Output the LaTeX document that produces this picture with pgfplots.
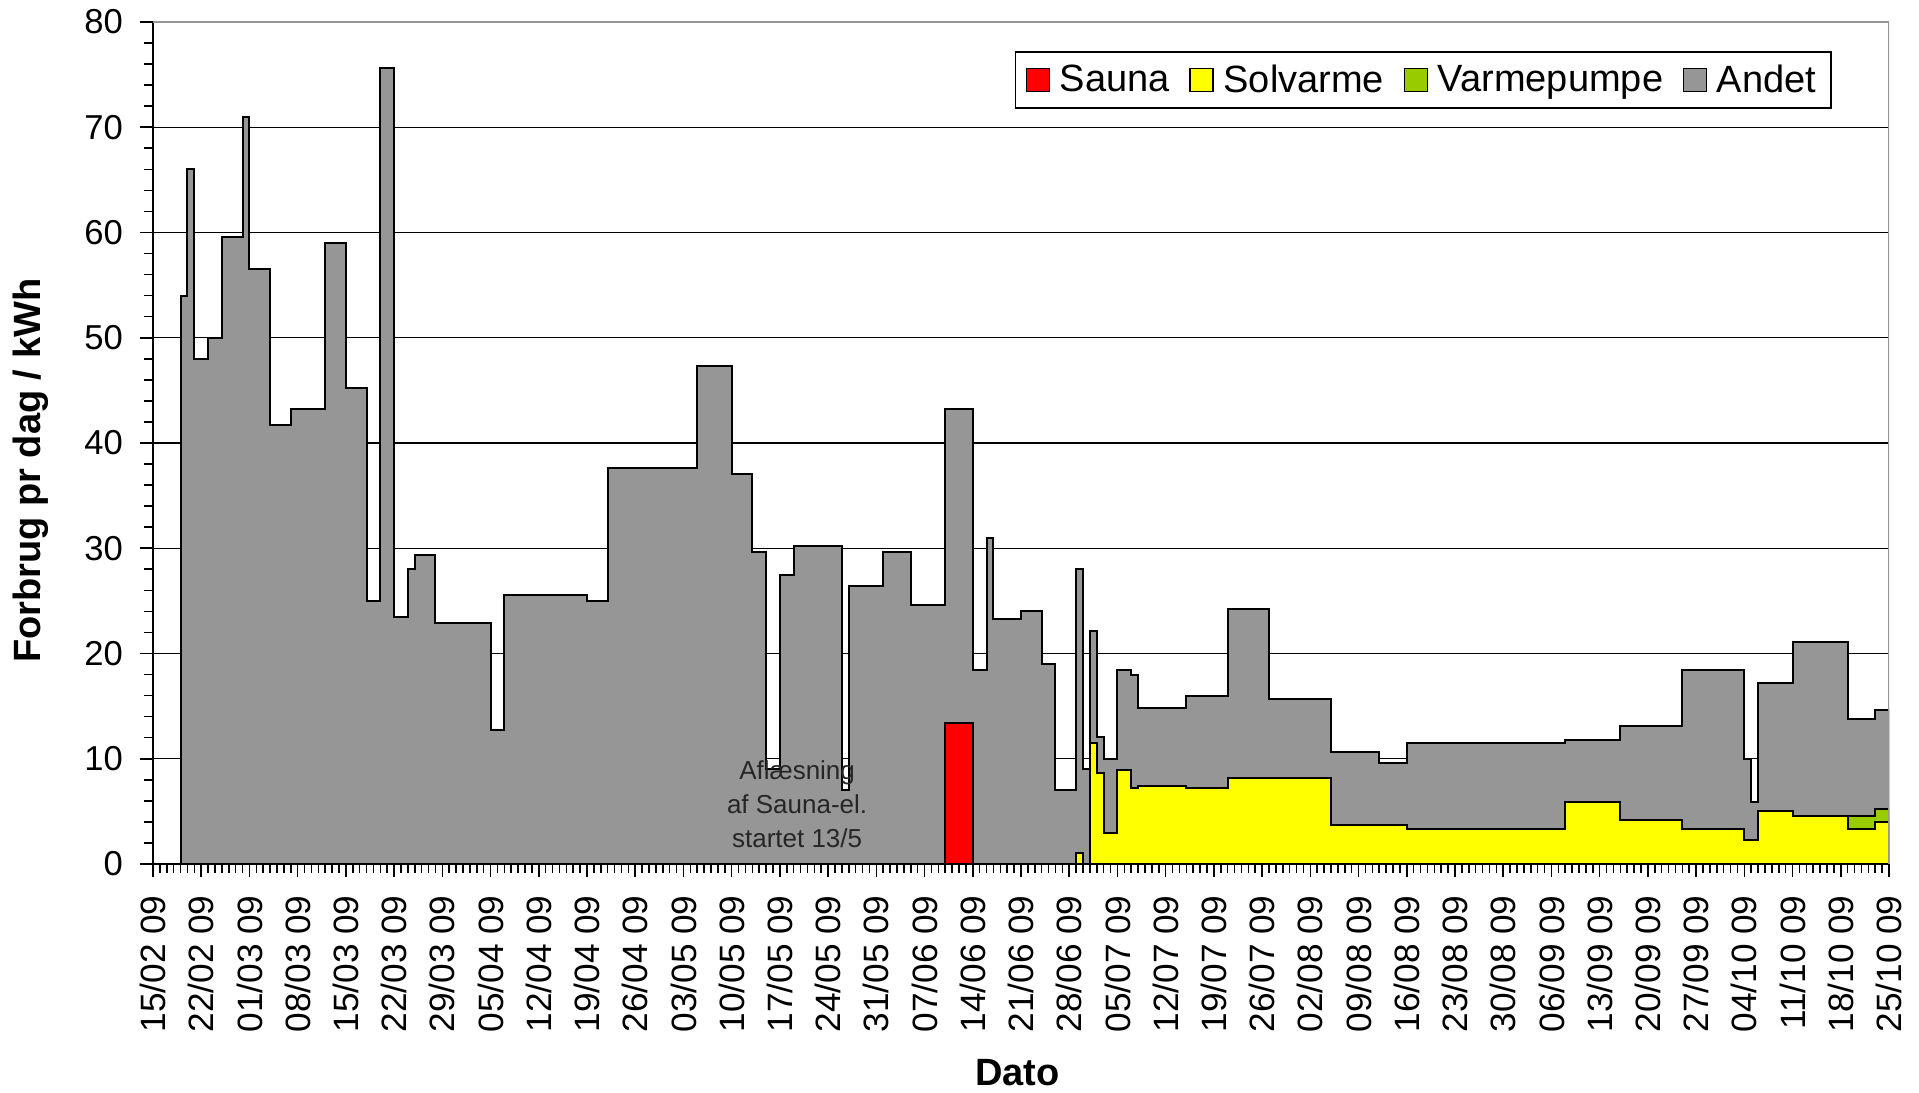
\documentclass[border=0pt]{standalone}
\usepackage{fontspec}
\setmainfont{Liberation Sans}
\usepackage{pgfplots}
\pgfplotsset{compat=1.18}
\usetikzlibrary{calc}
\definecolor{sauna}{RGB}{255,0,0}
\definecolor{solv}{RGB}{255,255,0}
\definecolor{varm}{RGB}{153,204,0}
\definecolor{andet}{RGB}{150,150,150}
\definecolor{frame}{RGB}{150,150,150}

\begin{document}
\begin{tikzpicture}
\begin{axis}[
  scale only axis, width=868pt, height=421pt,
  xmin=0, xmax=252, ymin=0, ymax=80,
  axis x line*=bottom, axis y line*=left,
  axis line style={black, line width=0.8pt},
  xtick={0,7,...,252},
  xticklabels={15/02 09,22/02 09,01/03 09,08/03 09,15/03 09,22/03 09,29/03 09,05/04 09,12/04 09,19/04 09,26/04 09,03/05 09,10/05 09,17/05 09,24/05 09,31/05 09,07/06 09,14/06 09,21/06 09,28/06 09,05/07 09,12/07 09,19/07 09,26/07 09,02/08 09,09/08 09,16/08 09,23/08 09,30/08 09,06/09 09,13/09 09,20/09 09,27/09 09,04/10 09,11/10 09,18/10 09,25/10 09},
  minor x tick num=6,
  ytick={0,10,...,80}, minor y tick num=4,
  tick align=outside,
  major tick length=6.5pt, minor tick length=4.5pt,
  tick style={black, line width=0.8pt},
  ymajorgrids, major grid style={black, line width=0.7pt},
  xticklabel style={rotate=90, anchor=east, font=\fontsize{17.6}{20}\selectfont, inner sep=0pt},
  xticklabel shift=9pt,
  yticklabel style={font=\fontsize{17.3}{20}\selectfont},
  yticklabel shift=5pt,
  /pgf/number format/assume math mode=true,
  every axis y label/.style={at={(axis description cs:-0.0703,0.467)}, rotate=90, anchor=center, font=\bfseries\fontsize{19}{22}\selectfont},
  every axis x label/.style={at={(axis description cs:0.498,-0.248)}, anchor=center, font=\bfseries\fontsize{19}{22}\selectfont},
  ylabel={Forbrug pr dag / kWh},
  xlabel={Dato},
  const plot,
  legend style={at={(rel axis cs:0.9672,0.9656)}, anchor=north east, draw=black, line width=0.8pt,
    font=\fontsize{19}{22}\selectfont, fill=white, inner xsep=5pt, inner ysep=5pt,
    nodes={inner xsep=2.5pt, inner ysep=1.5pt},
    /tikz/every odd column/.append style={column sep=2.4pt},
    /tikz/every even column/.append style={column sep=7.3pt}},
  legend columns=4,
  legend cell align=left,
]
% total (top of Andet)
\addplot[fill=andet, draw=black, line width=1pt, forget plot] coordinates {
(4,54) (5,66) (6,48) (8,50) (10,59.6) (13,71) (14,56.5) (17,41.7) (20,43.2) (25,59) (28,45.2) (31,25) (33,75.6) (35,23.5) (37,28) (38,29.4) (41,22.9) (49,12.7) (51,25.6) (63,25.0) (66,37.6) (79,47.3) (84,37.1) (87,29.6) (89,9) (91,27.5) (93,30.2) (100,7.0) (101,26.4) (106,29.6) (110,24.6) (115,43.2) (119,18.4) (121,31.0) (122,23.3) (126,24.0) (129,19.0) (131,7.0) (134,28.0) (135,9.0) (136,22.1) (137,12.1) (138,10.0) (140,18.4) (142,18.0) (143,14.8) (150,16.0) (156,24.2) (162,15.7) (171,10.6) (178,9.6) (182,11.5) (205,11.8) (213,13.1) (222,18.4) (231,10.0) (232,5.9) (233,17.2) (238,21.1) (246,13.8) (250,14.6) (252,14.6)
} \closedcycle;
% Solvarme + Varmepumpe
\addplot[fill=varm, draw=black, line width=1pt, forget plot] coordinates {
(246,4.6) (250,5.2) (252,5.2)
} \closedcycle;
% Solvarme
\addplot[fill=solv, draw=black, line width=1pt, forget plot] coordinates {
(134,1.0) (135,0) (136,11.5) (137,8.6) (138,2.9) (140,8.9) (142,7.2) (143,7.4) (150,7.2) (156,8.2) (171,3.7) (182,3.3) (205,5.9) (213,4.2) (222,3.3) (231,2.3) (233,5.0) (238,4.6) (246,3.3) (250,4.0) (252,4.0)
} \closedcycle;
% Sauna
\addplot[fill=sauna, draw=black, line width=1pt, forget plot] coordinates {
(115,13.4) (119,13.4)
} \closedcycle;

\draw[frame, line width=1pt] (rel axis cs:0,1) -- (rel axis cs:1,1) -- (rel axis cs:1,0);

\node[align=center, font=\fontsize{13}{17}\selectfont, text=black!85] at (axis cs:93.5,5.7) {Aflæsning\\af Sauna-el.\\startet 13/5};

\addlegendimage{legend image code/.code={\draw[fill=sauna, draw=black, line width=0.7pt] (0pt,-5.75pt) rectangle (11.5pt,5.75pt);}}
\addlegendentry{Sauna}
\addlegendimage{legend image code/.code={\draw[fill=solv, draw=black, line width=0.7pt] (0pt,-5.75pt) rectangle (11.5pt,5.75pt);}}
\addlegendentry{Solvarme}
\addlegendimage{legend image code/.code={\draw[fill=varm, draw=black, line width=0.7pt] (0pt,-5.75pt) rectangle (11.5pt,5.75pt);}}
\addlegendentry{Varmepumpe}
\addlegendimage{legend image code/.code={\draw[fill=andet, draw=black, line width=0.7pt] (0pt,-5.75pt) rectangle (11.5pt,5.75pt);}}
\addlegendentry{Andet}
\end{axis}
\pgfresetboundingbox
\path[use as bounding box] ($(current axis.south west)+(-76.5pt,-114.5pt)$) rectangle ($(current axis.north east)+(15pt,11pt)$);
\end{tikzpicture}
\end{document}
